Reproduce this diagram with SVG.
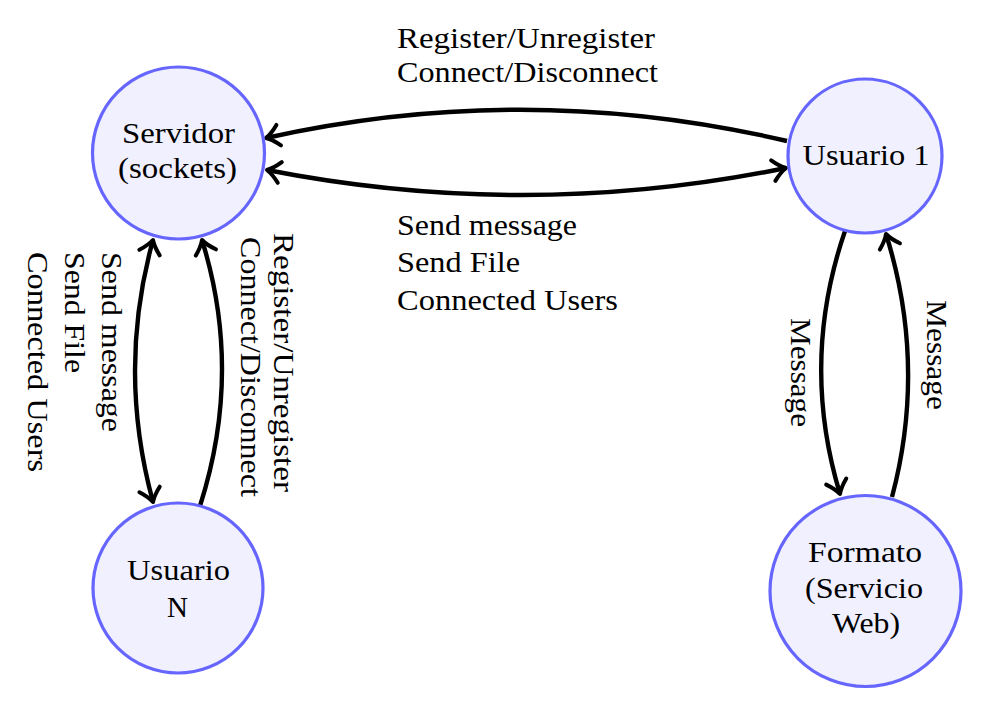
<svg xmlns="http://www.w3.org/2000/svg" width="1004" height="708" viewBox="0 0 1004 708">
<style>
.node{fill:#f0f0ff;stroke:#6666ff;stroke-width:3.2}
text{font-family:'Liberation Serif','Times New Roman',serif;font-size:29px;fill:#000}
.c{text-anchor:middle}
.e{fill:none;stroke:#000;stroke-width:4.4}
</style>
<defs>
<marker id="ar" markerUnits="userSpaceOnUse" viewBox="-16 -12 20 24" markerWidth="20" markerHeight="24" refX="0" refY="0" orient="auto-start-reverse" overflow="visible">
<path d="M -13 -10.5 C -7 -4 -2 -1 0 0 C -2 1 -7 4 -13 10.5" fill="none" stroke="#000" stroke-width="4" stroke-linecap="round" stroke-linejoin="round"/>
</marker>
</defs>
<rect width="1004" height="708" fill="#fff"/>
<g id="connectors">
<path class="e" d="M 787 141 Q 526 80 266 138" marker-end="url(#ar)"/>
<path class="e" d="M 267 170 Q 527 221 786 168" marker-start="url(#ar)" marker-end="url(#ar)"/>
<path class="e" d="M 153 240 Q 117 370 153 502" marker-start="url(#ar)" marker-end="url(#ar)"/>
<path class="e" d="M 200 506 Q 243 372 202 240" marker-end="url(#ar)"/>
<path class="e" d="M 845 231 Q 800 362 840 494" marker-end="url(#ar)"/>
<path class="e" d="M 892 497 Q 927 365 886 234" marker-end="url(#ar)"/>
</g>
<g id="labels">
<text x="397" y="48" textLength="258" lengthAdjust="spacingAndGlyphs">Register/Unregister</text>
<text x="397" y="82" textLength="261" lengthAdjust="spacingAndGlyphs">Connect/Disconnect</text>
<text x="397" y="235" textLength="180" lengthAdjust="spacingAndGlyphs">Send message</text>
<text x="397" y="272" textLength="123" lengthAdjust="spacingAndGlyphs">Send File</text>
<text x="397" y="310" textLength="221" lengthAdjust="spacingAndGlyphs">Connected Users</text>
<text transform="translate(102,252) rotate(90)" textLength="180" lengthAdjust="spacingAndGlyphs">Send message</text>
<text transform="translate(65,252) rotate(90)" textLength="121" lengthAdjust="spacingAndGlyphs">Send File</text>
<text transform="translate(28,252) rotate(90)" textLength="220" lengthAdjust="spacingAndGlyphs">Connected Users</text>
<text transform="translate(274,233) rotate(90)" textLength="259" lengthAdjust="spacingAndGlyphs">Register/Unregister</text>
<text transform="translate(241,237) rotate(90)" textLength="260" lengthAdjust="spacingAndGlyphs">Connect/Disconnect</text>
<text transform="translate(791,318) rotate(90)" textLength="109" lengthAdjust="spacingAndGlyphs">Message</text>
<text transform="translate(927,300) rotate(90)" textLength="110" lengthAdjust="spacingAndGlyphs">Message</text>
</g>
<g id="servidor">
<circle class="node" cx="178.5" cy="153" r="86"/>
<text class="c" x="178.5" y="143" textLength="113" lengthAdjust="spacingAndGlyphs">Servidor</text>
<text class="c" x="177.5" y="178" textLength="119" lengthAdjust="spacingAndGlyphs">(sockets)</text>
</g>
<g id="usuario1">
<circle class="node" cx="865" cy="156" r="77"/>
<text class="c" x="866" y="165" textLength="127" lengthAdjust="spacingAndGlyphs">Usuario 1</text>
</g>
<g id="usuarioN">
<circle class="node" cx="178" cy="588" r="85"/>
<text class="c" x="178.5" y="580" textLength="103" lengthAdjust="spacingAndGlyphs">Usuario</text>
<text class="c" x="177.5" y="617">N</text>
</g>
<g id="formato">
<circle class="node" cx="865.5" cy="591" r="95.5"/>
<text class="c" x="865" y="562" textLength="114" lengthAdjust="spacingAndGlyphs">Formato</text>
<text class="c" x="864" y="598" textLength="118" lengthAdjust="spacingAndGlyphs">(Servicio</text>
<text class="c" x="866" y="633" textLength="68" lengthAdjust="spacingAndGlyphs">Web)</text>
</g>
</svg>
